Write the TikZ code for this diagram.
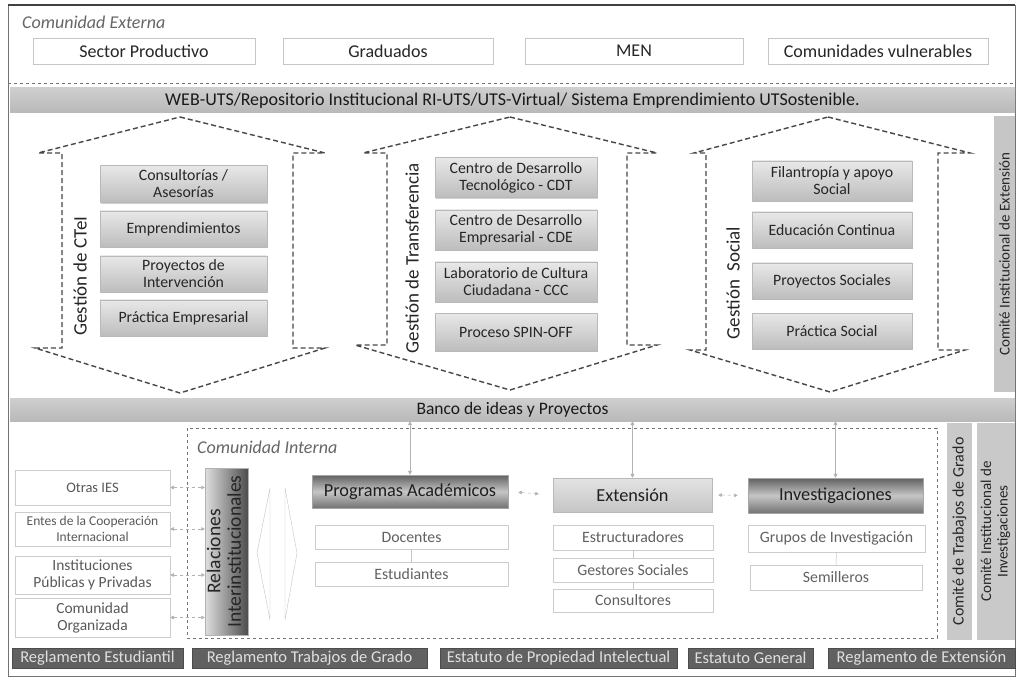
\documentclass[tikz,border=0pt]{standalone}
\usepackage{fontspec}
\setmainfont{Carlito}
\usetikzlibrary{arrows.meta,shadows}
\begin{document}
\begin{tikzpicture}[x=1pt,y=-1pt,
  extbox/.style={draw=gray!45, line width=0.6pt, fill=white, minimum height=26, inner sep=0, font=\fontsize{18}{20}\selectfont, text=black!85},
  bar/.style={top color=gray!38, bottom color=gray!55, draw=none, inner sep=0, font=\fontsize{18}{20}\selectfont, text=black!90},
  hexa/.style={draw=black!72, line width=1.4pt, dash pattern=on 5pt off 3pt, line join=miter},
  gbox/.style={top color=gray!18, bottom color=gray!52, draw=gray!55, line width=0.5pt, inner sep=0, align=center, font=\fontsize{15.8}{17}\selectfont, text=black!85, drop shadow={shadow xshift=1pt, shadow yshift=-1.2pt, opacity=0.35}},
  glabel/.style={rotate=90, font=\fontsize{19}{21}\selectfont, text=black!85},
  vbar/.style={fill=gray!45, draw=none, inner sep=0, align=center, font=\fontsize{12}{13.5}\selectfont, text=black!85},
  lbox/.style={draw=gray!40, line width=0.5pt, fill=white, inner sep=0, align=center, font=\fontsize{15.5}{17}\selectfont, text=black!65},
  sbox/.style={draw=gray!40, line width=0.5pt, fill=white, inner sep=0, align=center, font=\fontsize{15.8}{17}\selectfont, text=black!62},
  dbox/.style={draw=gray!70, line width=0.5pt, inner sep=0, font=\fontsize{18.3}{20}\selectfont, text=black!88, drop shadow={shadow xshift=1pt, shadow yshift=-1.2pt, opacity=0.35}},
  rbox/.style={fill=black!62, draw=black!70, inner sep=0, font=\fontsize{16.5}{18}\selectfont, text=white!88!black},
  darr/.style={gray!60, line width=0.5pt, dashed, {Triangle[length=3.5pt,width=3.5pt]}-{Triangle[length=3.5pt,width=3.5pt]}},
  varr/.style={gray!60, line width=0.6pt, {Triangle[length=4pt,width=4pt]}-{Triangle[length=4pt,width=4pt]}},
  link/.style={gray!45, line width=0.5pt},
  itl/.style={text=black!60, inner sep=0, anchor=west, font=\itshape\fontsize{18}{20}\selectfont}
]
\useasboundingbox (0,0) rectangle (1018,679);
\fill[white] (0,0) rectangle (1018,679);

% ---------- outer frame and external community ----------
\draw[black!55, line width=0.8pt] (8,5) rectangle (1015,676);
\draw[black!75, line width=1.4pt] (8,5) -- (1015,5);
\draw[black!55, line width=0.8pt, dashed] (8,83) -- (1015,83);
\node[itl] (cext) at (22,22) {Comunidad Externa};

\node[extbox, minimum width=222] (sp)  at (144,51) {Sector Productivo};
\node[extbox, minimum width=210] (gr)  at (388,51) {Graduados};
\node[extbox, minimum width=218] (men) at (634,51) {MEN};
\node[extbox, minimum width=220] (cv)  at (878,51) {Comunidades vulnerables};

\node[bar, minimum width=1005, minimum height=25] (web) at (512.5,100.5)
  {WEB-UTS/Repositorio Institucional RI-UTS/UTS-Virtual/ Sistema Emprendimiento UTSostenible.};

% ---------- three management blocks ----------
\draw[hexa] (180,117) -- (325,153) -- (293,153) -- (293,348) -- (325,348) -- (180,393)
  -- (35,348) -- (62,348) -- (62,153) -- (38,153) -- cycle;
\draw[hexa] (510,117) -- (657,153) -- (627,153) -- (627,345) -- (657,345) -- (510,390)
  -- (355,345) -- (387,345) -- (387,153) -- (363,153) -- cycle;
\draw[hexa] (828,117) -- (970,153) -- (938,153) -- (938,350) -- (965,350) -- (830,392)
  -- (690,350) -- (706,350) -- (706,153) -- (694,153) -- cycle;

\node[glabel] (g1) at (80,276) {Gestión de CTeI};
\node[glabel] (g2) at (412,258) {Gestión de Transferencia};
\node[glabel] (g3) at (733,283) {Gestión \ Social};

\node[gbox, minimum width=167, minimum height=37] (c1) at (183.5,184) {Consultorías /\\Asesorías};
\node[gbox, minimum width=167, minimum height=36] (c2) at (183.5,229) {Emprendimientos};
\node[gbox, minimum width=167, minimum height=36] (c3) at (183.5,274) {Proyectos de\\Intervención};
\node[gbox, minimum width=167, minimum height=36] (c4) at (183.5,318) {Práctica Empresarial};

\node[gbox, minimum width=162, minimum height=40] (t1) at (516,177.5) {Centro de Desarrollo\\Tecnológico - CDT};
\node[gbox, minimum width=162, minimum height=40] (t2) at (516,230) {Centro de Desarrollo\\Empresarial - CDE};
\node[gbox, minimum width=162, minimum height=40] (t3) at (516,282) {Laboratorio de Cultura\\Ciudadana - CCC};
\node[gbox, minimum width=162, minimum height=38] (t4) at (516,332) {Proceso SPIN-OFF};

\node[gbox, minimum width=160, minimum height=40] (s1) at (832,181) {Filantropía y apoyo\\Social};
\node[gbox, minimum width=160, minimum height=36] (s2) at (832,230) {Educación Continua};
\node[gbox, minimum width=160, minimum height=36] (s3) at (832,281) {Proyectos Sociales};
\node[gbox, minimum width=160, minimum height=36] (s4) at (832,331) {Práctica Social};

\node[vbar, minimum width=21, minimum height=276, font=\fontsize{15}{16}\selectfont] (cie) at (1004.5,254)
  {\rotatebox{90}{Comité Institucional de Extensión}};

\node[bar, minimum width=1005, minimum height=23, font=\fontsize{17.5}{19}\selectfont] (banco) at (512.5,409.5) {Banco de ideas y Proyectos};

% ---------- internal community ----------
\draw[black!55, line width=0.7pt, dashed] (187,428) rectangle (937,638);
\node[itl] (cint) at (197,447) {Comunidad Interna};

\node[lbox, minimum width=155, minimum height=35, font=\fontsize{14.5}{16}\selectfont] (ies)  at (92.5,487.5) {Otras IES};
\node[lbox, minimum width=155, minimum height=34, font=\fontsize{13.5}{15.5}\selectfont] (ent) at (92.5,529) {Entes de la Cooperación\\Internacional};
\node[lbox, minimum width=155, minimum height=38] (inst) at (92.5,575) {Instituciones\\Públicas y Privadas};
\node[lbox, minimum width=155, minimum height=39] (com)  at (92.5,617.5) {Comunidad\\Organizada};

\node[draw=gray!60, line width=0.4pt, inner sep=0, left color=gray!25, right color=black!70,
      minimum width=43, minimum height=167, align=center, font=\fontsize{19.5}{20.5}\selectfont, text=black!85] (rel) at (226.5,551.5)
  {\rotatebox{90}{\begin{tabular}{@{}c@{}}Relaciones\\Interinstitucionales\end{tabular}}};

\draw[darr] (ies.east)  -- (ies.east -| rel.west);
\draw[darr] (ent.east)  -- (ent.east -| rel.west);
\draw[darr] (inst.east) -- (inst.east -| rel.west);
\draw[darr] (com.east)  -- (com.east -| rel.west);

\draw[gray!45, line width=0.4pt] (270,488) -- (257,553) -- (270,620) -- cycle;
\draw[gray!45, line width=0.4pt] (285,488) -- (297,553) -- (285,620) -- cycle;

\node[dbox, top color=black!62, bottom color=black!55, middle color=gray!45, minimum width=196, minimum height=33] (prog) at (410,491.5) {Programas Académicos};
\node[dbox, top color=gray!22, bottom color=gray!45, draw=gray!55, minimum width=159, minimum height=34] (ext) at (632.5,495) {Extensión};
\node[dbox, top color=black!62, bottom color=black!55, middle color=gray!45, minimum width=175, minimum height=35] (inv) at (835.5,495.5) {Investigaciones};

\draw[varr] (banco.south -| prog.north) -- (prog.north);
\draw[varr] (banco.south -| ext.north)  -- (ext.north);
\draw[varr] (banco.south -| inv.north)  -- (inv.north);
\draw[darr, shorten <=10pt, shorten >=14pt] (prog.east) -- (ext.west);
\draw[darr, shorten <=6pt, shorten >=10pt] (ext.east) -- (inv.west);

\node[sbox, minimum width=193, minimum height=24] (doc) at (411.5,537) {Docentes};
\node[sbox, minimum width=193, minimum height=24] (est) at (411.5,574) {Estudiantes};
\node[sbox, minimum width=160, minimum height=25] (estr) at (633,537.5) {Estructuradores};
\node[sbox, minimum width=160, minimum height=24] (gest) at (633,570) {Gestores Sociales};
\node[sbox, minimum width=160, minimum height=23] (cons) at (633,600.5) {Consultores};
\node[sbox, minimum width=177, minimum height=27] (grp) at (836.5,538.5) {Grupos de Investigación};
\node[sbox, minimum width=172, minimum height=25] (sem) at (836,577.5) {Semilleros};

\draw[link] (doc.south) -- (est.north);
\draw[link] (estr.south) -- (gest.north);
\draw[link] (gest.south) -- (cons.north);
\draw[link] (grp.south) -- (sem.north);

\node[vbar, fill=gray!42, minimum width=25, minimum height=217, font=\fontsize{16}{17}\selectfont] (ctg) at (959.5,531.5)
  {\rotatebox{90}{Comité de Trabajos de Grado}};
\node[vbar, fill=gray!42, minimum width=38, minimum height=217, font=\fontsize{15}{16.5}\selectfont] (cii) at (996,531.5)
  {\rotatebox{90}{\begin{tabular}{@{}c@{}}Comité Institucional de\\Investigaciones\end{tabular}}};

% ---------- regulations ----------
\node[rbox, minimum width=171, minimum height=20] (r1) at (97.5,658) {Reglamento Estudiantil};
\node[rbox, minimum width=235, minimum height=20] (r2) at (309.5,658) {Reglamento Trabajos de Grado};
\node[rbox, minimum width=237, minimum height=20] (r3) at (558.5,658) {Estatuto de Propiedad Intelectual};
\node[rbox, minimum width=125, minimum height=20] (r4) at (750.5,658) {Estatuto General};
\node[rbox, minimum width=187, minimum height=20] (r5) at (921.5,658) {Reglamento de Extensión};
\end{tikzpicture}
\end{document}
